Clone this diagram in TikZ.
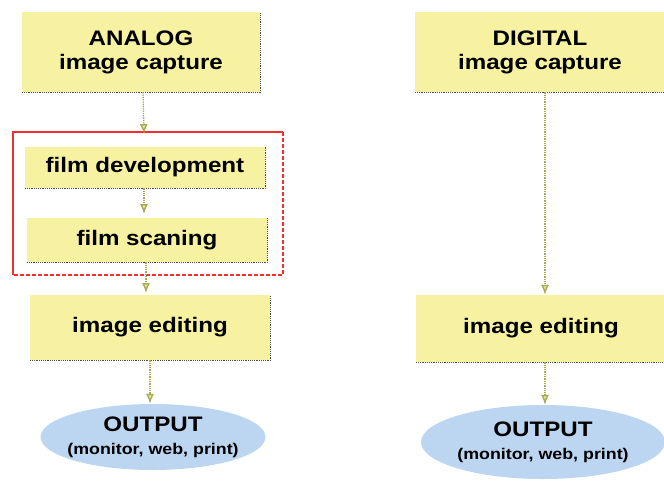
\documentclass[tikz,border=0pt]{standalone}
\usepackage{fontspec}
\setmainfont{Liberation Sans}[FakeStretch=1.15]
\usetikzlibrary{shapes.geometric,arrows.meta}
\definecolor{boxfill}{HTML}{F7F2A2}
\definecolor{ellfill}{HTML}{BCD6F2}
\definecolor{arrcol}{HTML}{A8A850}
\definecolor{headcol}{HTML}{D8E890}
\definecolor{redbox}{HTML}{F03030}
\begin{document}
\begin{tikzpicture}[x=1pt,y=-1pt,
  ybox/.style={rectangle,fill=boxfill,inner sep=0pt,font=\bfseries\fontsize{21}{24}\selectfont,align=center},
  outell/.style={ellipse,fill=ellfill,inner xsep=-24pt,inner ysep=-4pt,align=center,font=\bfseries\fontsize{21}{23}\selectfont},
  conn/.style={draw=arrcol,densely dotted,line width=1.3pt,-{Latex[length=10pt,width=8pt,fill=headcol]}},
  shade/.style={draw=black!70,densely dotted,line width=1.2pt}
]
\useasboundingbox (0,0) rectangle (664,488);
% left column
\node[ybox,minimum width=238,minimum height=80] (ana) at (141,52) {ANALOG\\image capture};
\node[ybox,minimum width=240,minimum height=41] (fdev) at (145,167.5) {film development};
\node[ybox,minimum width=240,minimum height=44] (fscan) at (147,240) {film scaning};
\node[ybox,minimum width=240,minimum height=65] (ledit) at (150,327.5) {image editing};
\node[outell,minimum width=225,minimum height=66] (lout) at (153,437) {OUTPUT\\{\fontsize{15.5}{17}\selectfont (monitor, web, print)}};
% right column
\node[ybox,minimum width=250,minimum height=80] (dig) at (540,52) {DIGITAL\\image capture};
\node[ybox,minimum width=250,minimum height=67] (redit) at (541,328.5) {image editing};
\node[outell,minimum width=244,minimum height=74] (rout) at (543,442) {OUTPUT\\{\fontsize{15.5}{17}\selectfont (monitor, web, print)}};
% shadows
\foreach \n in {ana,fdev,fscan,ledit,dig,redit}{
  \draw[shade] (\n.south west) -- (\n.south east) -- (\n.north east);
}
% red group frame
\draw[redbox,line width=1.2pt] (13,275) -- (13,132) -- (283,132);
\draw[redbox,line width=1.4pt,dash pattern=on 4pt off 2pt] (283,132) -- (283,275) -- (13,275);
% connectors
\draw[conn] ([xshift=2pt]ana.south) -- ([xshift=-1pt]fdev.north |- 0,134);
\draw[conn] ([xshift=-1pt]fdev.south) -- ([xshift=-3pt]fscan.north |- 0,214);
\draw[conn] ([xshift=-1pt]fscan.south) -- ([xshift=-4pt]ledit.north |- 0,293);
\draw[conn] (ledit.south) -- (ledit.south |- lout.north);
\draw[conn] ([xshift=5pt]dig.south) -- ([xshift=4pt]redit.north);
\draw[conn] ([xshift=4pt]redit.south) -- ([xshift=4pt]redit.south |- rout.north);
\end{tikzpicture}
\end{document}
